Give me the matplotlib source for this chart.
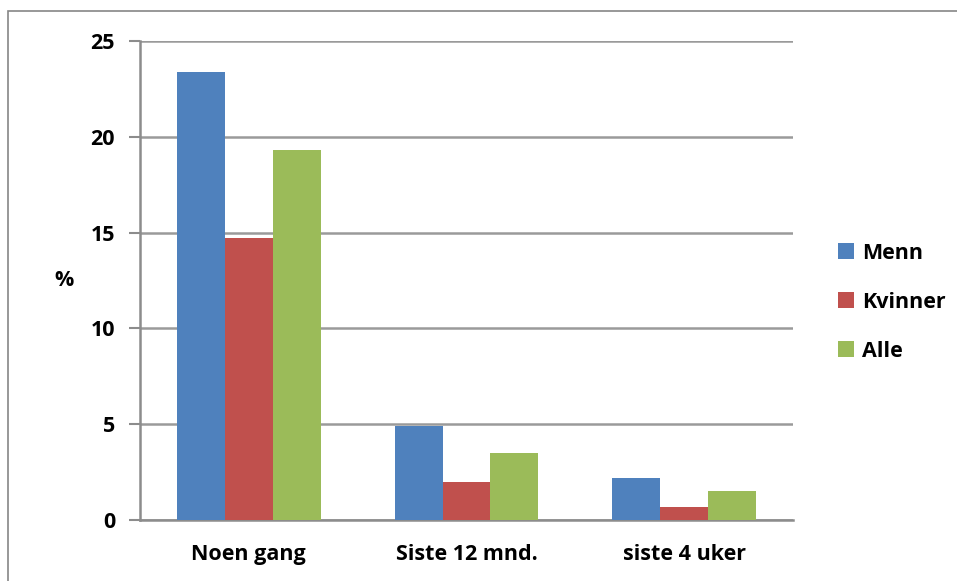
import matplotlib.pyplot as plt
import numpy as np
from matplotlib.patches import Rectangle

categories = ["Noen gang", "Siste 12 mnd.", "siste 4 uker"]
series_names = ["Menn", "Kvinner", "Alle"]
menn = [23.4, 4.9, 2.2]
kvinner = [14.7, 2.0, 0.7]
alle = [19.3, 3.5, 1.5]
yticks = [0, 5, 10, 15, 20, 25]

colors = ["#4F81BD", "#C0504D", "#9BBB59"]

plt.rcParams["font.family"] = ["Open Sans", "DejaVu Sans"]
plt.rcParams["font.weight"] = "bold"

fig = plt.figure(figsize=(9.57, 5.81), dpi=100)
W, H = 957, 581
ax = fig.add_axes([140 / W, 1 - 520 / H, (793 - 140) / W, (520 - 41) / H])

# outer chart border
fig.patches.append(Rectangle((8 / W, -0.1), 1.1, 1 - 11 / H + 0.1,
                             transform=fig.transFigure, fill=False,
                             edgecolor="#868686", linewidth=1.2))

x = np.arange(len(categories))
width = 0.22
for i, (vals, name) in enumerate(zip([menn, kvinner, alle], series_names)):
    ax.bar(x + (i - 1) * width, vals, width, color=colors[i], label=name,
           zorder=3)

fs = 15.5
ax.set_xlim(-0.5, len(categories) - 0.5)
ax.set_ylim(0, 25)
ax.set_yticks(yticks)
ax.set_yticklabels([str(t) for t in yticks], fontsize=fs, fontweight="bold")
ax.set_xticks(x)
ax.set_xticklabels(categories, fontsize=fs, fontweight="bold")
ax.tick_params(axis="x", length=0, pad=17)
ax.tick_params(axis="y", length=8, width=1.5, color="#8c8c8c", pad=10)

ax.grid(axis="y", color="#9a9a9a", linewidth=1.8, zorder=0)
for side in ["top", "right"]:
    ax.spines[side].set_visible(False)
for side in ["left", "bottom"]:
    ax.spines[side].set_color("#8c8c8c")
    ax.spines[side].set_linewidth(1.8)

ax.set_ylabel("%", rotation=0, fontsize=fs, fontweight="bold", labelpad=19,
              va="center")

leg = ax.legend(loc="center left", bbox_to_anchor=(1.04, 0.455), frameon=False,
                fontsize=fs, handlelength=0.7, handleheight=0.7,
                handletextpad=0.4, labelspacing=1.3)
for t in leg.get_texts():
    t.set_fontweight("bold")

fig.savefig("out.png", dpi=100)
